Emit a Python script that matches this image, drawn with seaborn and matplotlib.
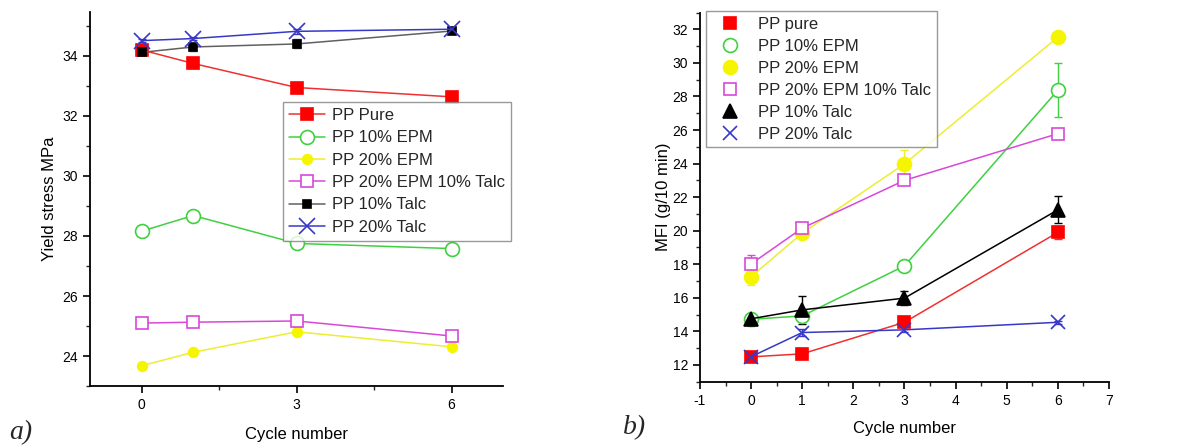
import numpy as np
import pandas as pd
import seaborn as sns
import matplotlib
matplotlib.use("Agg")
import matplotlib.pyplot as plt
from matplotlib.lines import Line2D
from matplotlib.ticker import MultipleLocator

# ---------------- data ----------------
cycles = [0, 1, 3, 6]

series_names_a = ["PP Pure", "PP 10% EPM", "PP 20% EPM",
                  "PP 20% EPM 10% Talc", "PP 10% Talc", "PP 20% Talc"]
yield_pure = [34.19, 33.74, 32.94, 32.63]
yield_epm10 = [28.16, 28.68, 27.75, 27.58]
yield_epm20 = [23.68, 24.13, 24.81, 24.31]
yield_epm20_talc10 = [25.10, 25.13, 25.17, 24.67]
yield_talc10 = [34.11, 34.29, 34.39, 34.82]
yield_talc20 = [34.50, 34.57, 34.81, 34.88]
yield_err_pure = [0.08, 0.15, 0.10, 0.08]
yield_err_epm10 = [0.08, 0.10, 0.10, 0.10]
yield_err_epm20 = [0.05, 0.05, 0.08, 0.05]
yield_err_epm20_talc10 = [0.08, 0.12, 0.20, 0.10]
yield_err_talc10 = [0.08, 0.12, 0.15, 0.08]
yield_err_talc20 = [0.05, 0.05, 0.08, 0.05]

series_names_b = ["PP pure", "PP 10% EPM", "PP 20% EPM",
                  "PP 20% EPM 10% Talc", "PP 10% Talc", "PP 20% Talc"]
mfi_pure = [12.48, 12.66, 14.54, 19.90]
mfi_epm10 = [14.72, 14.92, 17.90, 28.37]
mfi_epm20 = [17.26, 19.85, 23.98, 31.53]
mfi_epm20_talc10 = [18.02, 20.15, 23.00, 25.78]
mfi_talc10 = [14.75, 15.28, 15.98, 21.24]
mfi_talc20 = [12.49, 13.93, 14.09, 14.54]
mfi_err_pure = [0.15, 0.15, 0.20, 0.40]
mfi_err_epm10 = [0.40, 0.30, 0.20, 1.60]
mfi_err_epm20 = [0.50, 0.20, 0.80, 0.15]
mfi_err_epm20_talc10 = [0.55, 0.20, 0.15, 0.15]
mfi_err_talc10 = [0.30, 0.85, 0.40, 0.80]
mfi_err_talc20 = [0.15, 0.20, 0.15, 0.10]

# ---------------- style ----------------
sns.set_theme(style="ticks")
plt.rcParams["font.family"] = ["Liberation Sans", "DejaVu Sans"]
plt.rcParams["axes.unicode_minus"] = False

fig = plt.figure(figsize=(11.77, 4.48), dpi=100)
ax_a = fig.add_axes([0.0765, 0.138, 0.351, 0.835])
ax_b = fig.add_axes([0.5947, 0.148, 0.3475, 0.824])

def long_frame(names, values, errors):
    rows = []
    for name, vals, errs in zip(names, values, errors):
        for c, v, e in zip(cycles, vals, errs):
            rows.append({"series": name, "cycle": c, "value": v, "err": e})
    return pd.DataFrame(rows)

df_a = long_frame(series_names_a,
                  [yield_pure, yield_epm10, yield_epm20, yield_epm20_talc10, yield_talc10, yield_talc20],
                  [yield_err_pure, yield_err_epm10, yield_err_epm20, yield_err_epm20_talc10,
                   yield_err_talc10, yield_err_talc20])
df_b = long_frame(series_names_b,
                  [mfi_pure, mfi_epm10, mfi_epm20, mfi_epm20_talc10, mfi_talc10, mfi_talc20],
                  [mfi_err_pure, mfi_err_epm10, mfi_err_epm20, mfi_err_epm20_talc10,
                   mfi_err_talc10, mfi_err_talc20])

# per-series looks: line colour, marker, marker face, marker edge, marker size
style_a = {
    "PP Pure": dict(lc="#f03030", m="s", mfc="#ff0000", mec="#ff0000", ms=9),
    "PP 10% EPM": dict(lc="#40d040", m="o", mfc="white", mec="#40d040", ms=10),
    "PP 20% EPM": dict(lc="#eeee30", m="o", mfc="#f5f500", mec="#f5f500", ms=7),
    "PP 20% EPM 10% Talc": dict(lc="#d848d8", m="s", mfc="white", mec="#d848d8", ms=9),
    "PP 10% Talc": dict(lc="#606060", m="s", mfc="black", mec="black", ms=6),
    "PP 20% Talc": dict(lc="#3838c8", m="x", mfc="#3838c8", mec="#3838c8", ms=11),
}
style_b = {
    "PP pure": dict(lc="#f03030", m="s", mfc="#ff0000", mec="#ff0000", ms=8),
    "PP 10% EPM": dict(lc="#40d040", m="o", mfc="white", mec="#40d040", ms=10),
    "PP 20% EPM": dict(lc="#eeee30", m="o", mfc="#f5f500", mec="#f5f500", ms=10),
    "PP 20% EPM 10% Talc": dict(lc="#d848d8", m="s", mfc="white", mec="#d848d8", ms=8),
    "PP 10% Talc": dict(lc="#000000", m="^", mfc="black", mec="black", ms=10),
    "PP 20% Talc": dict(lc="#3838c8", m="x", mfc="#3838c8", mec="#3838c8", ms=10),
}

def draw_panel(ax, df, styles):
    for name, st in styles.items():
        sub = df[df["series"] == name]
        ax.errorbar(sub["cycle"], sub["value"], yerr=sub["err"], fmt="none",
                    ecolor=st["lc"], elinewidth=1, capsize=3, capthick=1, zorder=2)
        sns.lineplot(data=sub, x="cycle", y="value", ax=ax, color=st["lc"],
                     linewidth=1.1, marker=st["m"], markersize=st["ms"],
                     markerfacecolor=st["mfc"], markeredgecolor=st["mec"],
                     markeredgewidth=1.2, legend=False, errorbar=None, zorder=3)

draw_panel(ax_a, df_a, style_a)
draw_panel(ax_b, df_b, style_b)

# ---------------- axes a ----------------
ax_a.set_xlim(-1, 7)
ax_a.set_ylim(23.0, 35.45)
ax_a.set_xticks([0, 3, 6])
ax_a.xaxis.set_minor_locator(MultipleLocator(1.5))
ax_a.set_yticks([24, 26, 28, 30, 32, 34])
ax_a.yaxis.set_minor_locator(MultipleLocator(1))
ax_a.set_xlabel("Cycle number", fontsize=12, labelpad=11)
ax_a.set_ylabel("Yield stress MPa", fontsize=12, labelpad=4)

# ---------------- axes b ----------------
ax_b.set_xlim(-1, 7)
ax_b.set_ylim(11, 33)
ax_b.set_xticks(range(-1, 8))
ax_b.xaxis.set_minor_locator(MultipleLocator(0.5))
ax_b.set_yticks(range(12, 33, 2))
ax_b.yaxis.set_minor_locator(MultipleLocator(1))
ax_b.set_xlabel("Cycle number", fontsize=12, labelpad=10)
ax_b.set_ylabel("MFI (g/10 min)", fontsize=12, labelpad=1)

for ax in (ax_a, ax_b):
    sns.despine(ax=ax)
    for side in ("left", "bottom"):
        ax.spines[side].set_linewidth(1.3)
        ax.spines[side].set_color("black")
    ax.tick_params(which="major", direction="out", length=5, width=1.2,
                   labelsize=10, colors="black")
    ax.tick_params(which="minor", direction="out", length=3, width=1.0)
    ax.xaxis.label.set_color("black")
    ax.yaxis.label.set_color("black")

# ---------------- legends ----------------
def handles(styles, with_line):
    hs = []
    for name, st in styles.items():
        hs.append(Line2D([], [], color=st["lc"], linewidth=1.1 if with_line else 0,
                         marker=st["m"], markersize=st["ms"], markerfacecolor=st["mfc"],
                         markeredgecolor=st["mec"], markeredgewidth=1.2, label=name))
    return hs

leg_a = ax_a.legend(handles=handles(style_a, True), loc="upper left",
                    bbox_to_anchor=(0.467, 0.759), fontsize=12, frameon=True,
                    fancybox=False, edgecolor="#808080", handlelength=2.2,
                    handletextpad=0.4, labelspacing=0.44, borderpad=0.35,
                    borderaxespad=0)
leg_a.get_frame().set_linewidth(1.0)

leg_b = ax_b.legend(handles=handles(style_b, False), loc="upper left",
                    bbox_to_anchor=(0.014, 1.005), fontsize=12, frameon=True,
                    fancybox=False, edgecolor="#808080", handlelength=2.2,
                    handletextpad=0.6, labelspacing=0.42, borderpad=0.35,
                    borderaxespad=0)
leg_b.get_frame().set_linewidth(1.0)

# panel tags
fig.text(0.008, 0.02, "a)", fontsize=20, fontstyle="italic",
         family=["Liberation Serif", "DejaVu Serif"])
fig.text(0.529, 0.03, "b)", fontsize=20, fontstyle="italic",
         family=["Liberation Serif", "DejaVu Serif"])

fig.savefig("out.png", dpi=100)
